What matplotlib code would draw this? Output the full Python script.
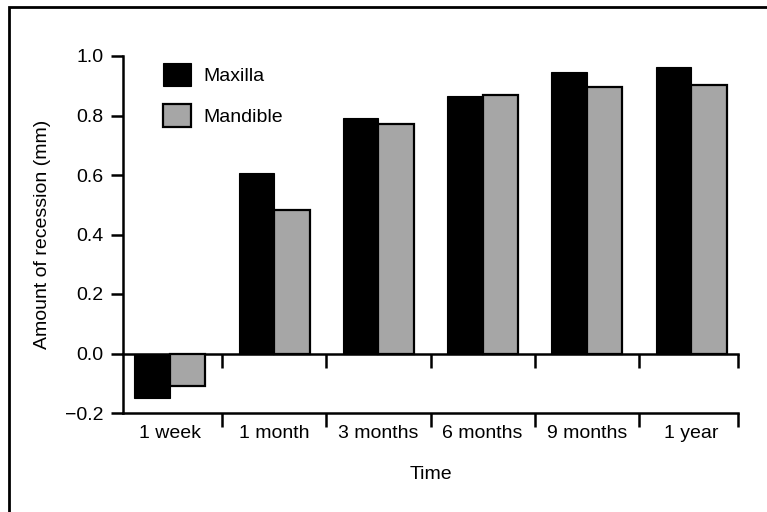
import matplotlib
matplotlib.use("Agg")
import matplotlib.pyplot as plt
import matplotlib.patches as mpatches
import numpy as np

times = ["1 week", "1 month", "3 months", "6 months", "9 months", "1 year"]
maxilla = [-0.15, 0.607, 0.79, 0.865, 0.945, 0.962]
mandible = [-0.11, 0.483, 0.772, 0.87, 0.896, 0.903]
yticks = [-0.2, 0.0, 0.2, 0.4, 0.6, 0.8, 1.0]

plt.rcParams['font.family'] = ['Liberation Sans', 'DejaVu Sans']
plt.rcParams['font.size'] = 14

fig = plt.figure(figsize=(7.67, 5.12), dpi=100)
ax = fig.add_axes([123/767, 1-413/512, (738-123)/767, (413-56)/512])

# frame round the whole picture (right and bottom edges fall outside)
fig.patches.append(mpatches.Rectangle((9/767, -0.1), 1.2, 1.1 - 7/512,
                                      transform=fig.transFigure, fill=False,
                                      edgecolor="black", linewidth=2))

x = np.arange(len(times))
w = 0.34
ax.bar(x - w/2, maxilla, w, color="black", edgecolor="black", linewidth=0.8, label="Maxilla", zorder=3)
ax.bar(x + w/2, mandible, w, color="#a6a6a6", edgecolor="black", linewidth=1.6, label="Mandible", zorder=3)

ax.set_xlim(-0.45, 5.45)
ax.set_ylim(-0.2, 1.0)
ax.set_yticks(yticks)
ax.set_yticklabels(["\u22120.2", "0.0", "0.2", "0.4", "0.6", "0.8", "1.0"])

for s in ["top", "right"]:
    ax.spines[s].set_visible(False)
ax.spines["left"].set_linewidth(1.8)
ax.spines["bottom"].set_linewidth(1.8)

bounds = list(np.arange(0.5, 5.0, 1.0)) + [5.45]
ax.set_xticks(bounds)
ax.set_xticklabels([])
ax.set_xticks(x, minor=True)
ax.set_xticklabels(times, minor=True)
ax.tick_params(axis="x", which="minor", length=0, pad=9)
ax.tick_params(axis="x", which="major", length=10, width=1.8)
ax.tick_params(axis="y", length=9, width=1.8, pad=5)

# zero line with its own ticks
zero = ax.secondary_xaxis(0.2/1.2)
zero.spines["bottom"].set_linewidth(1.8)
zero.set_xticks(bounds)
zero.set_xticklabels([])
zero.tick_params(axis="x", length=10, width=1.8)

ax.set_xlabel("Time", labelpad=17)
ax.set_ylabel("Amount of recession (mm)", labelpad=10)

ax.legend(loc="upper left", bbox_to_anchor=(0.04, 1.025), frameon=False,
          handlelength=1.45, handleheight=1.45, handletextpad=0.6,
          labelspacing=0.95, fontsize=14, borderpad=0.3)

fig.savefig("out.png", dpi=100)
